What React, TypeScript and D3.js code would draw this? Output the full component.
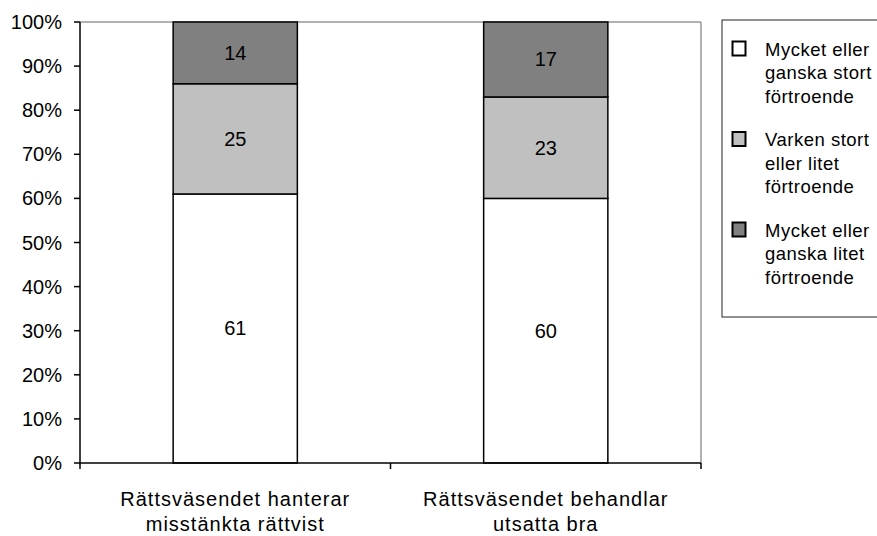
import React from "react";
import * as d3 from "d3";

const categories = ["Rättsväsendet hanterar misstänkta rättvist", "Rättsväsendet behandlar utsatta bra"];
const categoryLines = [["Rättsväsendet hanterar", "misstänkta rättvist"], ["Rättsväsendet behandlar", "utsatta bra"]];
const seriesNames = ["Mycket eller ganska stort förtroende", "Varken stort eller litet förtroende", "Mycket eller ganska litet förtroende"];
const legendLines = [["Mycket eller", "ganska stort", "förtroende"], ["Varken stort", "eller litet", "förtroende"], ["Mycket eller", "ganska litet", "förtroende"]];
const seriesHigh = [61, 60];
const seriesMid = [25, 23];
const seriesLow = [14, 17];
const seriesColors = ["#ffffff", "#c0c0c0", "#808080"];
const yTicks = [0, 10, 20, 30, 40, 50, 60, 70, 80, 90, 100];

export default function App() {
  const W = 877, H = 536;
  const left = 80, right = 701, top = 22, bottom = 463;
  const x = d3.scaleBand<string>().domain(categories).range([left, right]).paddingInner(0).paddingOuter(0);
  const y = d3.scaleLinear().domain([0, 100]).range([bottom, top]);
  const series = [seriesHigh, seriesMid, seriesLow];
  const stacked = categories.map((c, i) => {
    let acc = 0;
    return series.map((s, k) => {
      const y0 = acc;
      acc += s[i];
      return { k, y0, y1: acc, v: s[i] };
    });
  });
  const bw = x.bandwidth() * 0.4;
  const font = "Liberation Sans, Arial, Helvetica, sans-serif";
  return (
    <svg width={W} height={H} style={{ position: "absolute", left: 0, top: 0, fontFamily: font }}>
      <rect x={0} y={0} width={W} height={H} fill="#fff" />
      {/* plot frame */}
      <line x1={left} y1={top} x2={right} y2={top} stroke="#999" strokeWidth={1.5} />
      <line x1={right} y1={top} x2={right} y2={bottom} stroke="#999" strokeWidth={1.5} />
      {/* bars */}
      {categories.map((c, i) => {
        const cx = (x(c) as number) + x.bandwidth() / 2;
        return (
          <g key={c}>
            {stacked[i].map((d) => (
              <g key={d.k}>
                <rect x={cx - bw / 2} y={y(d.y1)} width={bw} height={y(d.y0) - y(d.y1)} fill={seriesColors[d.k]} stroke="#000" strokeWidth={1.5} />
                <text x={cx} y={(y(d.y0) + y(d.y1)) / 2} textAnchor="middle" dominantBaseline="central" fontSize={20} fill="#000">{d.v}</text>
              </g>
            ))}
          </g>
        );
      })}
      {/* y axis */}
      <line x1={left} y1={top} x2={left} y2={bottom} stroke="#000" strokeWidth={1.5} />
      {yTicks.map((t) => (
        <g key={t}>
          <line x1={left - 6} x2={left} y1={y(t)} y2={y(t)} stroke="#000" strokeWidth={1.5} />
          <text x={62} y={y(t)} textAnchor="end" dominantBaseline="central" fontSize={20} fill="#000">{t}%</text>
        </g>
      ))}
      {/* x axis */}
      <line x1={left} y1={bottom} x2={right} y2={bottom} stroke="#000" strokeWidth={1.5} />
      {[...categories.map((c) => x(c) as number), right].map((px, i) => (
        <line key={i} x1={px} x2={px} y1={bottom} y2={bottom + 6} stroke="#000" strokeWidth={1.5} />
      ))}
      {categories.map((c, i) => {
        const cx = (x(c) as number) + x.bandwidth() / 2;
        return categoryLines[i].map((ln, j) => (
          <text key={c + j} x={cx} y={499 + j * 25} textAnchor="middle" dominantBaseline="central" fontSize={20} letterSpacing={1} fill="#000">{ln}</text>
        ));
      })}
      {/* legend */}
      <rect x={722} y={20} width={170} height={297} fill="#fff" stroke="#222" strokeWidth={1} />
      {seriesNames.map((s, k) => (
        <g key={s}>
          <rect x={732.5} y={41.5 + k * 90.5} width={13} height={14} fill={seriesColors[k]} stroke="#000" strokeWidth={2} />
          {legendLines[k].map((ln, j) => (
            <text key={j} x={765} y={49 + k * 90.5 + j * 23.5} dominantBaseline="central" fontSize={18.5} letterSpacing={0.5} fill="#000">{ln}</text>
          ))}
        </g>
      ))}
    </svg>
  );
}
